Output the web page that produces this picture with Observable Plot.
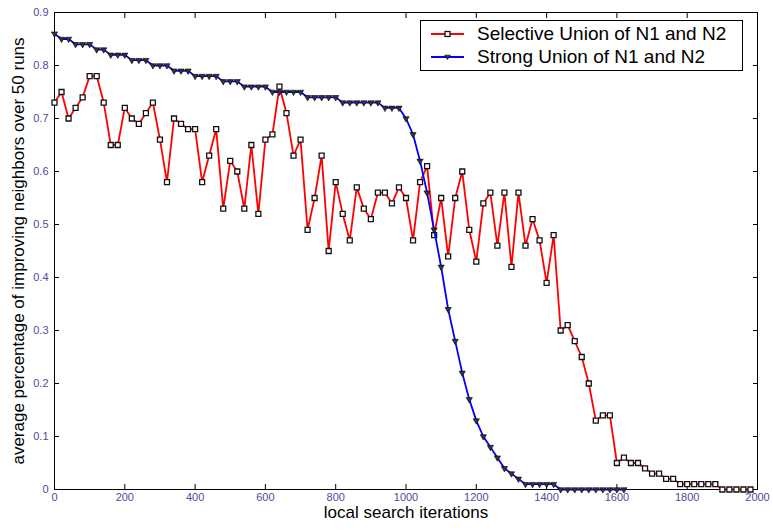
<!DOCTYPE html>
<html><head><meta charset="utf-8">
<script src="https://cdn.jsdelivr.net/npm/d3@7"></script>
<script src="https://cdn.jsdelivr.net/npm/@observablehq/plot@0.6"></script>
<style>
body{margin:0;background:#fff;}
#wrap{position:relative;width:773px;height:530px;font-family:"Liberation Sans",Arial,sans-serif;background:#fff;}
#legend{position:absolute;left:420px;top:20px;width:323px;height:51px;border:1px solid #000;background:#fff;box-sizing:border-box;padding-top:1px;}
.row{display:flex;align-items:center;height:23.5px;padding-left:10px;font-size:19px;color:#000;white-space:nowrap;}
.row svg{margin-right:13px;flex:none;}
</style></head><body><div id="wrap"><div id="legend"></div></div>
<script>
const iterations = [0,20,40,60,80,100,120,140,160,180,200,220,240,260,280,300,320,340,360,380,
  400,420,440,460,480,500,520,540,560,580,600,620,640,660,680,700,720,740,760,780,
  800,820,840,860,880,900,920,940,960,980,1000,1020,1040,1060,1080,1100,1120,1140,1160,1180,
  1200,1220,1240,1260,1280,1300,1320,1340,1360,1380,1400,1420,1440,1460,1480,1500,1520,1540,1560,1580,
  1600,1620,1640,1660,1680,1700,1720,1740,1760,1780,1800,1820,1840,1860,1880,1900,1920,1940,1960,1980];
const selectiveValues = [.73,.75,.70,.72,.74,.78,.78,.73,.65,.65,
  .72,.70,.69,.71,.73,.66,.58,.70,.69,.68,
  .68,.58,.63,.68,.53,.62,.60,.53,.65,.52,
  .66,.67,.76,.71,.63,.66,.49,.55,.63,.45,
  .58,.52,.47,.57,.53,.51,.56,.56,.54,.57,
  .55,.47,.58,.61,.48,.55,.44,.55,.60,.49,
  .43,.54,.56,.46,.56,.42,.56,.46,.51,.47,
  .39,.48,.30,.31,.28,.25,.20,.13,.14,.14,
  .05,.06,.05,.05,.04,.03,.03,.02,.02,.01,
  .01,.01,.01,.01,.01,0,0,0,0,0];
const strongValues = [.86,.85,.85,.84,.84,.84,.83,.83,.82,.82,
  .82,.81,.81,.81,.80,.80,.80,.79,.79,.79,
  .78,.78,.78,.78,.77,.77,.77,.76,.76,.76,
  .76,.75,.75,.75,.75,.75,.74,.74,.74,.74,
  .74,.73,.73,.73,.73,.73,.73,.72,.72,.72,
  .70,.67,.62,.56,.49,.42,.34,.28,.22,.17,
  .13,.10,.08,.06,.04,.03,.02,.01,.01,.01,
  .01,.01,0,0,0,0,0,0,0,0,
  0,0];
const seriesNames = ["Selective Union of N1 and N2", "Strong Union of N1 and N2"];
const xTicks = [0,200,400,600,800,1000,1200,1400,1600,1800,2000];
const yTicks = [0,0.1,0.2,0.3,0.4,0.5,0.6,0.7,0.8,0.9];
const yTickLabels = ["0","0.1","0.2","0.3","0.4","0.5","0.6","0.7","0.8","0.9"];
const xTitle = "local search iterations";
const yTitle = "average percentage of improving neighbors over 50 runs";

const selective = iterations.map((x, i) => ({x, y: selectiveValues[i]}));
const strong = strongValues.map((y, i) => ({x: iterations[i], y}));
const labelColor = "#55479a";

const chart = Plot.plot({
  width: 773, height: 530,
  marginLeft: 54, marginRight: 16, marginTop: 12, marginBottom: 41,
  style: {fontFamily: "'Liberation Sans', Arial, sans-serif", background: "white", overflow: "visible"},
  x: {domain: [0, 2000]},
  y: {domain: [0, 0.9]},
  marks: [
    Plot.axisX({ticks: xTicks, tickSize: 0, tickPadding: 4, fontSize: 11, color: labelColor, tickFormat: d => String(d), label: null}),
    Plot.axisX({ticks: xTicks, anchor: "bottom", tickSize: -5, stroke: "black", tickFormat: () => "", label: null}),
    Plot.axisX({ticks: xTicks, anchor: "top", tickSize: -5, stroke: "black", tickFormat: () => "", label: null}),
    Plot.axisY({ticks: yTicks, tickSize: 0, tickPadding: 6, fontSize: 11, color: labelColor, tickFormat: (d, i) => yTickLabels[i], label: null}),
    Plot.axisY({ticks: yTicks, anchor: "left", tickSize: -5, stroke: "black", tickFormat: () => "", label: null}),
    Plot.axisY({ticks: yTicks, anchor: "right", tickSize: -5, stroke: "black", tickFormat: () => "", label: null}),
    Plot.frame({stroke: "black", strokeWidth: 1}),
    Plot.text([xTitle], {frameAnchor: "bottom", textAnchor: "middle", dy: 28, fontSize: 17, fill: "black"}),
    Plot.text([yTitle], {frameAnchor: "left", textAnchor: "middle", dx: -36, rotate: -90, fontSize: 17, fill: "black"}),
    Plot.line(selective, {x: "x", y: "y", stroke: "#ff0000", strokeWidth: 1.8}),
    Plot.dot(selective, {x: "x", y: "y", symbol: "square", r: 2.8, fill: "white", stroke: "#111", strokeWidth: 1.3}),
    Plot.line(strong, {x: "x", y: "y", stroke: "#0000ff", strokeWidth: 1.8}),
    Plot.dot(strong, {x: "x", y: "y", symbol: "triangle", rotate: 180, r: 2.3, fill: "#333", stroke: "black", strokeWidth: 0.6})
  ]
});
document.getElementById("wrap").prepend(chart);

const legend = document.getElementById("legend");
const swatches = [
  `<svg width="33" height="14"><line x1="0" y1="7" x2="33" y2="7" stroke="#ff0000" stroke-width="1.8"/><rect x="14" y="4.5" width="5" height="5" fill="white" stroke="#111" stroke-width="1.3"/></svg>`,
  `<svg width="33" height="14"><line x1="0" y1="7" x2="33" y2="7" stroke="#0000ff" stroke-width="1.8"/><path d="M13.6,5.2 L19.4,5.2 L16.5,9.6 Z" fill="#333" stroke="black" stroke-width="0.6"/></svg>`
];
seriesNames.forEach((name, i) => {
  const row = document.createElement("div");
  row.className = "row";
  row.innerHTML = swatches[i] + `<span>${name}</span>`;
  legend.appendChild(row);
});
</script>
</body></html>
